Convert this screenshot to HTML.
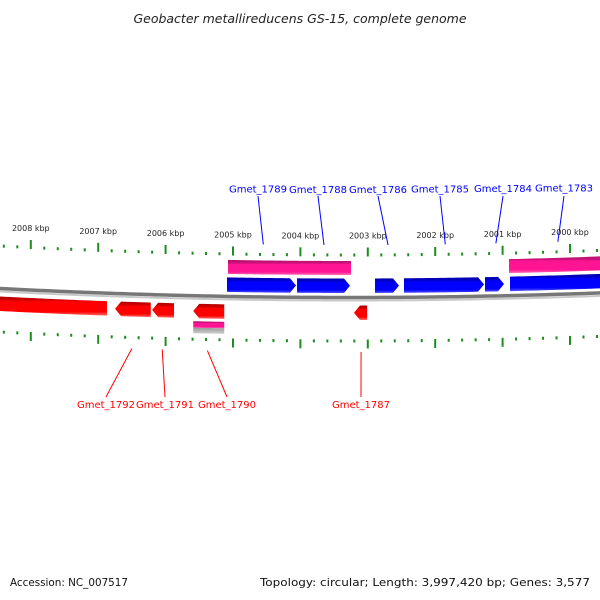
<!DOCTYPE html>
<html><head><meta charset="utf-8">
<style>
html,body{margin:0;padding:0;background:#fff;}
svg{display:block;font-family:"DejaVu Sans","Liberation Sans",sans-serif;}
</style></head>
<body>
<svg id="chart" width="600" height="600" viewBox="0 0 600 600" xmlns="http://www.w3.org/2000/svg">
<defs>
<linearGradient id="gPink" x1="0" y1="0" x2="0" y2="1"><stop offset="0" stop-color="#b8106a"/><stop offset="0.2" stop-color="#c8127a"/><stop offset="0.3" stop-color="#ff1493"/><stop offset="0.8" stop-color="#ff1493"/><stop offset="1" stop-color="#ff70b8"/></linearGradient>
<linearGradient id="gBlue" x1="0" y1="0" x2="0" y2="1"><stop offset="0" stop-color="#0000a8"/><stop offset="0.2" stop-color="#0000c8"/><stop offset="0.3" stop-color="#0000ff"/><stop offset="0.8" stop-color="#0000ff"/><stop offset="1" stop-color="#5050ff"/></linearGradient>
<linearGradient id="gRed" x1="0" y1="0" x2="0" y2="1"><stop offset="0" stop-color="#b00000"/><stop offset="0.2" stop-color="#d00000"/><stop offset="0.3" stop-color="#ff0000"/><stop offset="0.8" stop-color="#ff0000"/><stop offset="1" stop-color="#ff7070"/></linearGradient>
<linearGradient id="gGray" x1="0" y1="0" x2="0" y2="1"><stop offset="0" stop-color="#999"/><stop offset="1" stop-color="#d0d0d0"/></linearGradient>
</defs>
<text x="300" y="23" text-anchor="middle" font-size="12.5" font-style="italic" fill="#222">Geobacter metallireducens GS-15, complete genome</text>
<g id="layer"></g>
<text x="10" y="586" font-size="11" fill="#111" textLength="118" lengthAdjust="spacingAndGlyphs">Accession: NC_007517</text>
<text x="590" y="586" text-anchor="end" font-size="11" fill="#111" textLength="330" lengthAdjust="spacingAndGlyphs">Topology: circular; Length: 3,997,420 bp; Genes: 3,577</text>
</svg>
<script>
// data (kbp)
const majorTicks = [2009, 2008, 2007, 2006, 2005, 2004, 2003, 2002, 2001, 2000, 1999];
const tickLabels = ["2008 kbp","2007 kbp","2006 kbp","2005 kbp","2004 kbp","2003 kbp","2002 kbp","2001 kbp","2000 kbp"];
const tickLabelValues = [2008, 2007, 2006, 2005, 2004, 2003, 2002, 2001, 2000];
const pinkStarts = [2005.074, 2000.905];
const pinkEnds = [2003.249, 1999.35];
const blueStarts = [2005.089, 2004.050, 2002.893, 2002.463, 2001.261, 2000.890];
const blueEnds = [2004.065, 2003.264, 2002.537, 2001.276, 2000.979, 1999.35];
const redStarts = [2008.60, 2006.75, 2006.20, 2005.59, 2003.205];
const redEnds = [2006.87, 2006.22, 2005.875, 2005.13, 2003.01];
const boxStarts = [2005.59];
const boxEnds = [2005.13];
const topGeneNames = ["Gmet_1789","Gmet_1788","Gmet_1786","Gmet_1785","Gmet_1784","Gmet_1783"];
const topGeneKbp = [2004.55, 2003.65, 2002.70, 2001.85, 2001.10, 2000.18];
const topLabelX = [258, 318, 378, 440, 503, 564];
const botGeneNames = ["Gmet_1792","Gmet_1791","Gmet_1790","Gmet_1787"];
const botGeneKbp = [2006.5, 2006.05, 2005.38, 2003.1];
const botLabelX = [106, 165, 227, 361];

const NS = "http://www.w3.org/2000/svg";
const layer = document.getElementById('layer');
function xs(k){ return 233 + (2005 - k) * 67.4; }
function d(x){ return -((x - 350) * (x - 350)) * 7.35e-5; }
function mk(tag, attrs){ const e = document.createElementNS(NS, tag); for (const a in attrs) e.setAttribute(a, attrs[a]); layer.appendChild(e); return e; }

// backbone
(function(){
  let p1 = "", p2 = "";
  for (let x = -5; x <= 605; x += 5){ p1 += (x === -5 ? "M" : "L") + x + "," + (297.5 + d(x)).toFixed(2); p2 += (x === -5 ? "M" : "L") + x + "," + (300.5 + d(x)).toFixed(2); }
  const b2 = mk('path', {d: p2, fill: 'none', stroke: '#c8c8c8', 'stroke-width': 2});
  
  
  const b = mk('path', {d: p1, fill: 'none', stroke: '#777', 'stroke-width': 3.5});
  
  
})();

// ticks
function tickRow(base, dir, name){
  for (let k10 = 20090; k10 >= 19990; k10 -= 2){
    const k = k10 / 10;
    const x = xs(k);
    if (x < -5 || x > 605) continue;
    const major = (k10 % 10 === 0);
    const y0 = base + d(x);
    const h = major ? 9 : 3;
    const r = mk('rect', {x: (x - 1).toFixed(2), y: (dir < 0 ? y0 - h : y0).toFixed(2), width: 2, height: h, fill: '#1e8c1e'});
    
    
  }
}
tickRow(256.5, -1, 'top');
tickRow(339.5, 1, 'bottom');
tickLabelValues.forEach((k, i) => {
  const x = xs(k);
  const t = mk('text', {x: x.toFixed(2), y: (238.5 + d(x)).toFixed(2), 'text-anchor': 'middle', 'font-size': 8, fill: '#222'});
  t.textContent = tickLabels[i];
  
  
});

// features
function feature(k1, k2, top, bot, fill, arrow, name){
  let xa = xs(k1), xb = xs(k2);
  const pts = [];
  const head = arrow === 0 ? 0 : 6;
  const mid = (top + bot) / 2;
  const step = 4;
  if (arrow >= 0){
    const xe = xb - head;
    for (let x = xa; x < xe; x += step) pts.push([x, top + d(x)]);
    pts.push([xe, top + d(xe)]);
    if (head) pts.push([xb, mid + d(xb)]);
    pts.push([xe, bot + d(xe)]);
    for (let x = xe; x > xa; x -= step) pts.push([x, bot + d(x)]);
    pts.push([xa, bot + d(xa)]);
  } else {
    const xs2 = xa + head;
    pts.push([xa, mid + d(xa)]);
    for (let x = xs2; x < xb; x += step) pts.push([x, top + d(x)]);
    pts.push([xb, top + d(xb)]);
    pts.push([xb, bot + d(xb)]);
    for (let x = xb; x > xs2; x -= step) pts.push([x, bot + d(x)]);
    pts.push([xs2, bot + d(xs2)]);
  }
  const p = mk('polygon', {points: pts.map(q => q[0].toFixed(2) + "," + q[1].toFixed(2)).join(" "), fill: fill});
  
  
}
pinkStarts.forEach((s, i) => feature(s, pinkEnds[i], 261, 275, 'url(#gPink)', 0, 'pink-feature'));
blueStarts.forEach((s, i) => feature(s, blueEnds[i], 278.5, 293, 'url(#gBlue)', 1, 'blue-gene-arrow'));
redStarts.forEach((s, i) => feature(s, redEnds[i], 305.5, 320, 'url(#gRed)', i === 0 ? 0 : -1, 'red-gene-arrow'));
boxStarts.forEach((s, i) => {
  feature(s, boxEnds[i], 323, 329.5, 'url(#gPink)', 0, 'small-pink-feature');
  feature(s, boxEnds[i], 329.5, 335, 'url(#gGray)', 0, 'small-gray-feature');
});

// gene labels
topGeneNames.forEach((n, i) => {
  const x2 = xs(topGeneKbp[i]);
  const l = mk('line', {x1: topLabelX[i], y1: 196, x2: x2.toFixed(2), y2: (245 + d(x2)).toFixed(2), stroke: '#0000ff', 'stroke-width': 1});
  
  
  const t = mk('text', {x: topLabelX[i], y: (193 + d(topLabelX[i]) * 0.5).toFixed(2), 'text-anchor': 'middle', 'font-size': 10, fill: '#0000ff'});
  t.textContent = n;
  
  
});
botGeneNames.forEach((n, i) => {
  const x1 = xs(botGeneKbp[i]);
  const l = mk('line', {x1: x1.toFixed(2), y1: (352 + d(x1)).toFixed(2), x2: botLabelX[i], y2: 397, stroke: '#ff0000', 'stroke-width': 1});
  
  
  const t = mk('text', {x: botLabelX[i], y: 408, 'text-anchor': 'middle', 'font-size': 10, fill: '#ff0000'});
  t.textContent = n;
  
  
});
</script>
</body></html>
